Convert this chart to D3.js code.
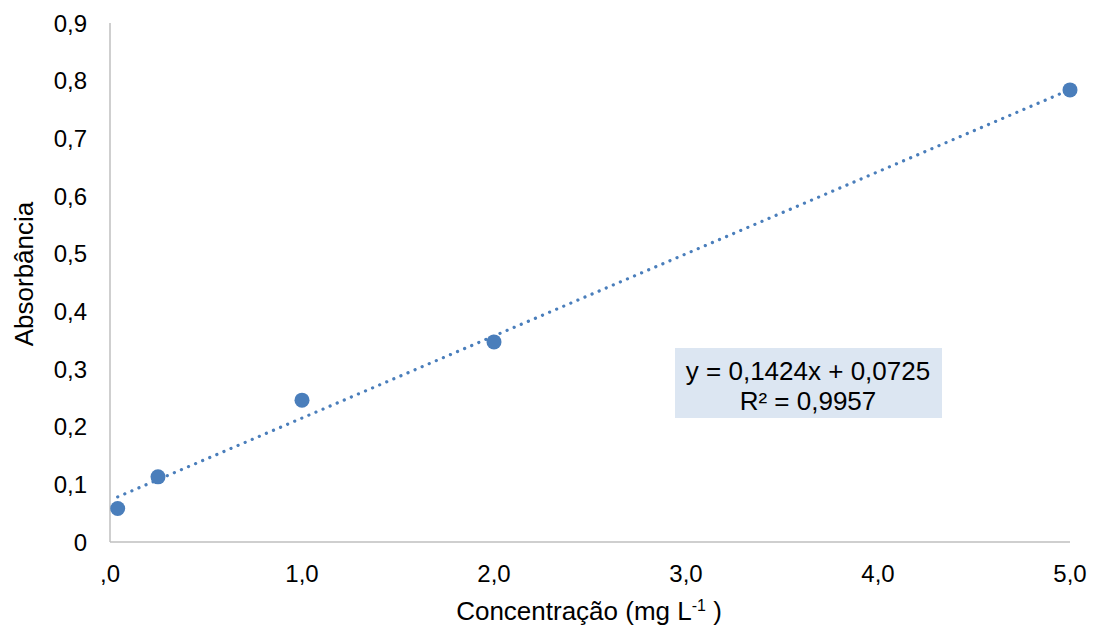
<!DOCTYPE html>
<html lang="pt">
<head>
  <meta charset="UTF-8">
  <title>Curva de calibração</title>
  <script src="https://d3js.org/d3.v7.min.js"></script>
  <style>
    body { margin: 0; background: #fff; font-family: "Liberation Sans", Arial, sans-serif; }
    svg text { fill: #000; }
  </style>
</head>
<body>
  <svg width="1097" height="627"></svg>
  <script>
    // data
    const concentration = [0.04, 0.25, 1, 2, 5];
    const absorbance = [0.058, 0.113, 0.246, 0.347, 0.784];
    const slope = 0.1424, intercept = 0.0725;
    const xTicks = [0, 1, 2, 3, 4, 5];
    const xTickLabels = [",0", "1,0", "2,0", "3,0", "4,0", "5,0"];
    const yTicks = [0, 0.1, 0.2, 0.3, 0.4, 0.5, 0.6, 0.7, 0.8, 0.9];
    const yTickLabels = ["0", "0,1", "0,2", "0,3", "0,4", "0,5", "0,6", "0,7", "0,8", "0,9"];

    const svg = d3.select("svg");
    const x = d3.scaleLinear().domain([0, 5]).range([110, 1070]);
    const y = d3.scaleLinear().domain([0, 0.9]).range([542, 23]);
    const blue = "#4a7ebb";

    // axes lines
    svg.append("line").attr("x1", x(0)).attr("x2", x(0)).attr("y1", y(0.9)).attr("y2", y(0))
       .attr("stroke", "#bfbfbf").attr("stroke-width", 1.5);
    svg.append("line").attr("x1", x(0)).attr("x2", x(5)).attr("y1", y(0)).attr("y2", y(0))
       .attr("stroke", "#bfbfbf").attr("stroke-width", 1.5);

    // tick labels
    svg.selectAll(".ytick").data(yTicks).enter().append("text")
       .attr("class", "ytick")
       .attr("x", 87).attr("y", d => y(d)).attr("dy", "0.36em")
       .attr("text-anchor", "end").style("font-size", "24px")
       .text((d, i) => yTickLabels[i]);
    svg.selectAll(".xtick").data(xTicks).enter().append("text")
       .attr("class", "xtick")
       .attr("x", d => x(d)).attr("y", 582)
       .attr("text-anchor", "middle").style("font-size", "24px")
       .text((d, i) => xTickLabels[i]);

    // axis titles
    svg.append("text")
       .attr("transform", "translate(33,274) rotate(-90)")
       .attr("text-anchor", "middle").style("font-size", "26px")
       .text("Absorbância");
    const xt = svg.append("text")
       .attr("x", 589).attr("y", 620)
       .attr("text-anchor", "middle").style("font-size", "26px");
    xt.append("tspan").text("Concentração (mg L");
    xt.append("tspan").attr("dy", -9).style("font-size", "16px").text("-1");
    xt.append("tspan").attr("dy", 9).text(" )");

    // trendline
    const x0 = d3.min(concentration), x1 = d3.max(concentration);
    svg.append("line")
       .attr("x1", x(x0)).attr("y1", y(slope * x0 + intercept))
       .attr("x2", x(x1)).attr("y2", y(slope * x1 + intercept))
       .attr("stroke", blue).attr("stroke-width", 3.2)
       .attr("stroke-linecap", "round").attr("stroke-dasharray", "0.1 7.6");

    // points
    svg.selectAll(".pt").data(concentration).enter().append("circle")
       .attr("class", "pt")
       .attr("cx", d => x(d)).attr("cy", (d, i) => y(absorbance[i]))
       .attr("r", 7.5).attr("fill", blue);

    // equation label
    svg.append("rect").attr("x", 675).attr("y", 348).attr("width", 267).attr("height", 70)
       .attr("fill", "#dce6f2");
    svg.append("text").attr("x", 808).attr("y", 380).attr("text-anchor", "middle")
       .style("font-size", "26px").text("y = 0,1424x + 0,0725");
    svg.append("text").attr("x", 808).attr("y", 410).attr("text-anchor", "middle")
       .style("font-size", "26px").text("R² = 0,9957");
  </script>
</body>
</html>
